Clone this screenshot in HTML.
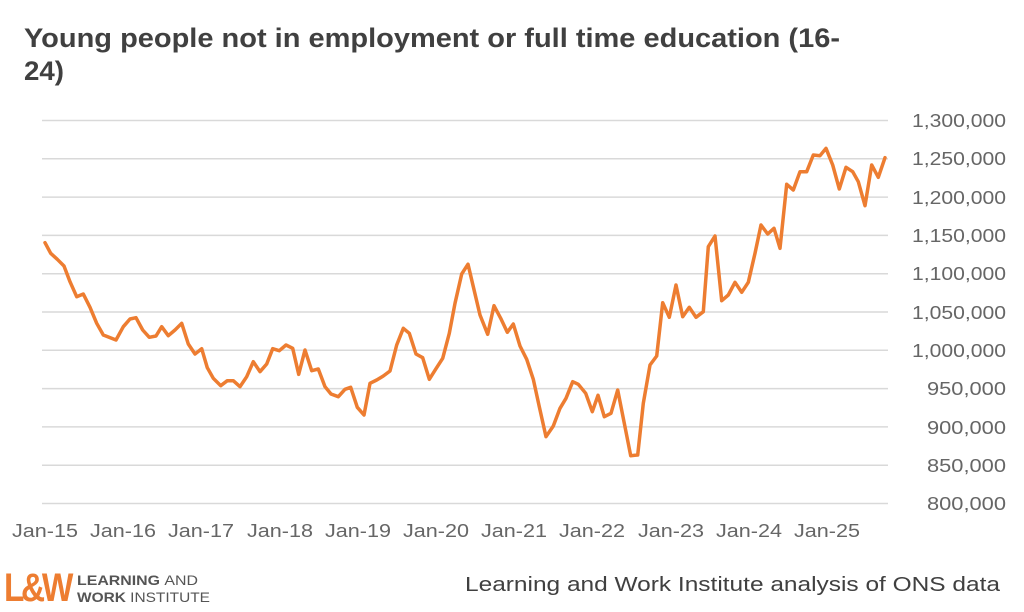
<!DOCTYPE html>
<html><head><meta charset="utf-8"><style>
body{margin:0;background:#fff;}
svg{display:block;font-family:"Liberation Sans",sans-serif;}
</style></head><body>
<svg width="1024" height="612" viewBox="0 0 1024 612">
<text x="24" y="47" font-size="27" font-weight="bold" fill="#404040" textLength="816" lengthAdjust="spacingAndGlyphs">Young people not in employment or full time education (16-</text>
<text x="24" y="80" font-size="27" font-weight="bold" fill="#404040" textLength="40" lengthAdjust="spacingAndGlyphs">24)</text>
<g stroke="#d9d9d9" stroke-width="1.5">
<line x1="42" y1="120.5" x2="888" y2="120.5"/>
<line x1="42" y1="158.8" x2="888" y2="158.8"/>
<line x1="42" y1="197.1" x2="888" y2="197.1"/>
<line x1="42" y1="235.4" x2="888" y2="235.4"/>
<line x1="42" y1="273.7" x2="888" y2="273.7"/>
<line x1="42" y1="312" x2="888" y2="312"/>
<line x1="42" y1="350.3" x2="888" y2="350.3"/>
<line x1="42" y1="388.6" x2="888" y2="388.6"/>
<line x1="42" y1="426.9" x2="888" y2="426.9"/>
<line x1="42" y1="465.2" x2="888" y2="465.2"/>
<line x1="42" y1="503.5" x2="888" y2="503.5"/>
</g>
<g font-size="18" fill="#666" text-anchor="end">
<text x="1006" y="127" textLength="94" lengthAdjust="spacingAndGlyphs">1,300,000</text>
<text x="1006" y="165" textLength="94" lengthAdjust="spacingAndGlyphs">1,250,000</text>
<text x="1006" y="204" textLength="94" lengthAdjust="spacingAndGlyphs">1,200,000</text>
<text x="1006" y="242" textLength="94" lengthAdjust="spacingAndGlyphs">1,150,000</text>
<text x="1006" y="280" textLength="94" lengthAdjust="spacingAndGlyphs">1,100,000</text>
<text x="1006" y="319" textLength="94" lengthAdjust="spacingAndGlyphs">1,050,000</text>
<text x="1006" y="357" textLength="94" lengthAdjust="spacingAndGlyphs">1,000,000</text>
<text x="1006" y="395" textLength="79" lengthAdjust="spacingAndGlyphs">950,000</text>
<text x="1006" y="434" textLength="79" lengthAdjust="spacingAndGlyphs">900,000</text>
<text x="1006" y="472" textLength="79" lengthAdjust="spacingAndGlyphs">850,000</text>
<text x="1006" y="510" textLength="79" lengthAdjust="spacingAndGlyphs">800,000</text>
</g>
<g font-size="18" fill="#666" text-anchor="middle">
<text x="45" y="537" textLength="66" lengthAdjust="spacingAndGlyphs">Jan-15</text>
<text x="123" y="537" textLength="66" lengthAdjust="spacingAndGlyphs">Jan-16</text>
<text x="201" y="537" textLength="66" lengthAdjust="spacingAndGlyphs">Jan-17</text>
<text x="280" y="537" textLength="66" lengthAdjust="spacingAndGlyphs">Jan-18</text>
<text x="358" y="537" textLength="66" lengthAdjust="spacingAndGlyphs">Jan-19</text>
<text x="436" y="537" textLength="66" lengthAdjust="spacingAndGlyphs">Jan-20</text>
<text x="514" y="537" textLength="66" lengthAdjust="spacingAndGlyphs">Jan-21</text>
<text x="592" y="537" textLength="66" lengthAdjust="spacingAndGlyphs">Jan-22</text>
<text x="671" y="537" textLength="66" lengthAdjust="spacingAndGlyphs">Jan-23</text>
<text x="749" y="537" textLength="66" lengthAdjust="spacingAndGlyphs">Jan-24</text>
<text x="827" y="537" textLength="66" lengthAdjust="spacingAndGlyphs">Jan-25</text>
</g>
<polyline fill="none" stroke="#ed7d31" stroke-width="3.5" stroke-linejoin="round" stroke-linecap="round" points="45,242.7 50.7,253.3 57.3,259.3 64,266 70,281.7 76.7,296.7 83.3,294 90,307.3 96.7,323.3 103.3,335 116,340 123.3,326.7 130,319 136,317.7 142.7,330 149.3,337.3 156,336 161.7,326.7 168.3,335.7 175,330 181.7,323.3 188.3,344 195,354 201.7,348.7 207.3,367.7 213.3,378.3 220.7,385.7 227.3,380.7 233.3,380.7 240,386.7 246.7,376.7 253.3,361.7 260,371.7 266.7,364 272.7,348.7 279.3,350.7 286,345 292.7,348.3 298.7,374.3 305,350 311.7,370.7 318.3,369 325,386.7 331,394 338.3,396.7 345,389.3 350.7,387.3 357.3,407.3 364,415 370,383.3 376.7,380 383.3,376 390,371 396.7,345 403.3,328.3 409.3,333.3 416,354 422.7,357.7 429.3,379.3 436,368.7 442.7,358.3 449.3,333.3 455,303.3 461.7,274 468,264.2 473.3,286.7 480,315 487.7,334.3 494,305.7 500.7,318.3 507.3,332.3 513.3,324 520,346 526.7,359.3 533.3,379.3 539.3,406.7 546,436.7 553.3,426 560,408.3 566,398.3 572.7,381.7 578.3,384.3 585.7,393.3 592.3,411.7 598,395.3 604.3,416.7 611,413.3 617.7,390 624.3,423.3 630.7,455.7 637.7,455 643.3,403.3 650,365 656.7,356 662.7,302.7 669.3,317.3 676,285 682.7,316.7 689.3,307.3 696,317.3 703.3,311.7 708.3,246.7 715,236 721.7,300.7 728.3,295 735,282.3 741.7,292.3 748.3,282.3 755,253.3 761,225 767.7,234 774,228.3 780,248.3 786.7,184.3 793.3,190 800,171.7 806.7,171.7 813.3,155 820,155.7 826,148.3 832.7,165 839.3,189 846,167.3 852.7,171.7 858.3,181.7 865,205.7 871.7,165 878.3,177.3 885,157.7"/>
<text x="4" y="601" font-size="40" font-weight="bold" fill="#ed7d31" letter-spacing="-4" textLength="66" lengthAdjust="spacingAndGlyphs">L&amp;W</text>
<text x="77" y="585" font-size="14" font-weight="bold" fill="#555" textLength="121" lengthAdjust="spacingAndGlyphs">LEARNING <tspan font-weight="normal">AND</tspan></text>
<text x="77" y="602" font-size="14" font-weight="bold" fill="#555" textLength="133" lengthAdjust="spacingAndGlyphs">WORK <tspan font-weight="normal">INSTITUTE</tspan></text>
<text x="465" y="591" font-size="20" fill="#404040" textLength="535" lengthAdjust="spacingAndGlyphs">Learning and Work Institute analysis of ONS data</text>
</svg>
</body></html>
